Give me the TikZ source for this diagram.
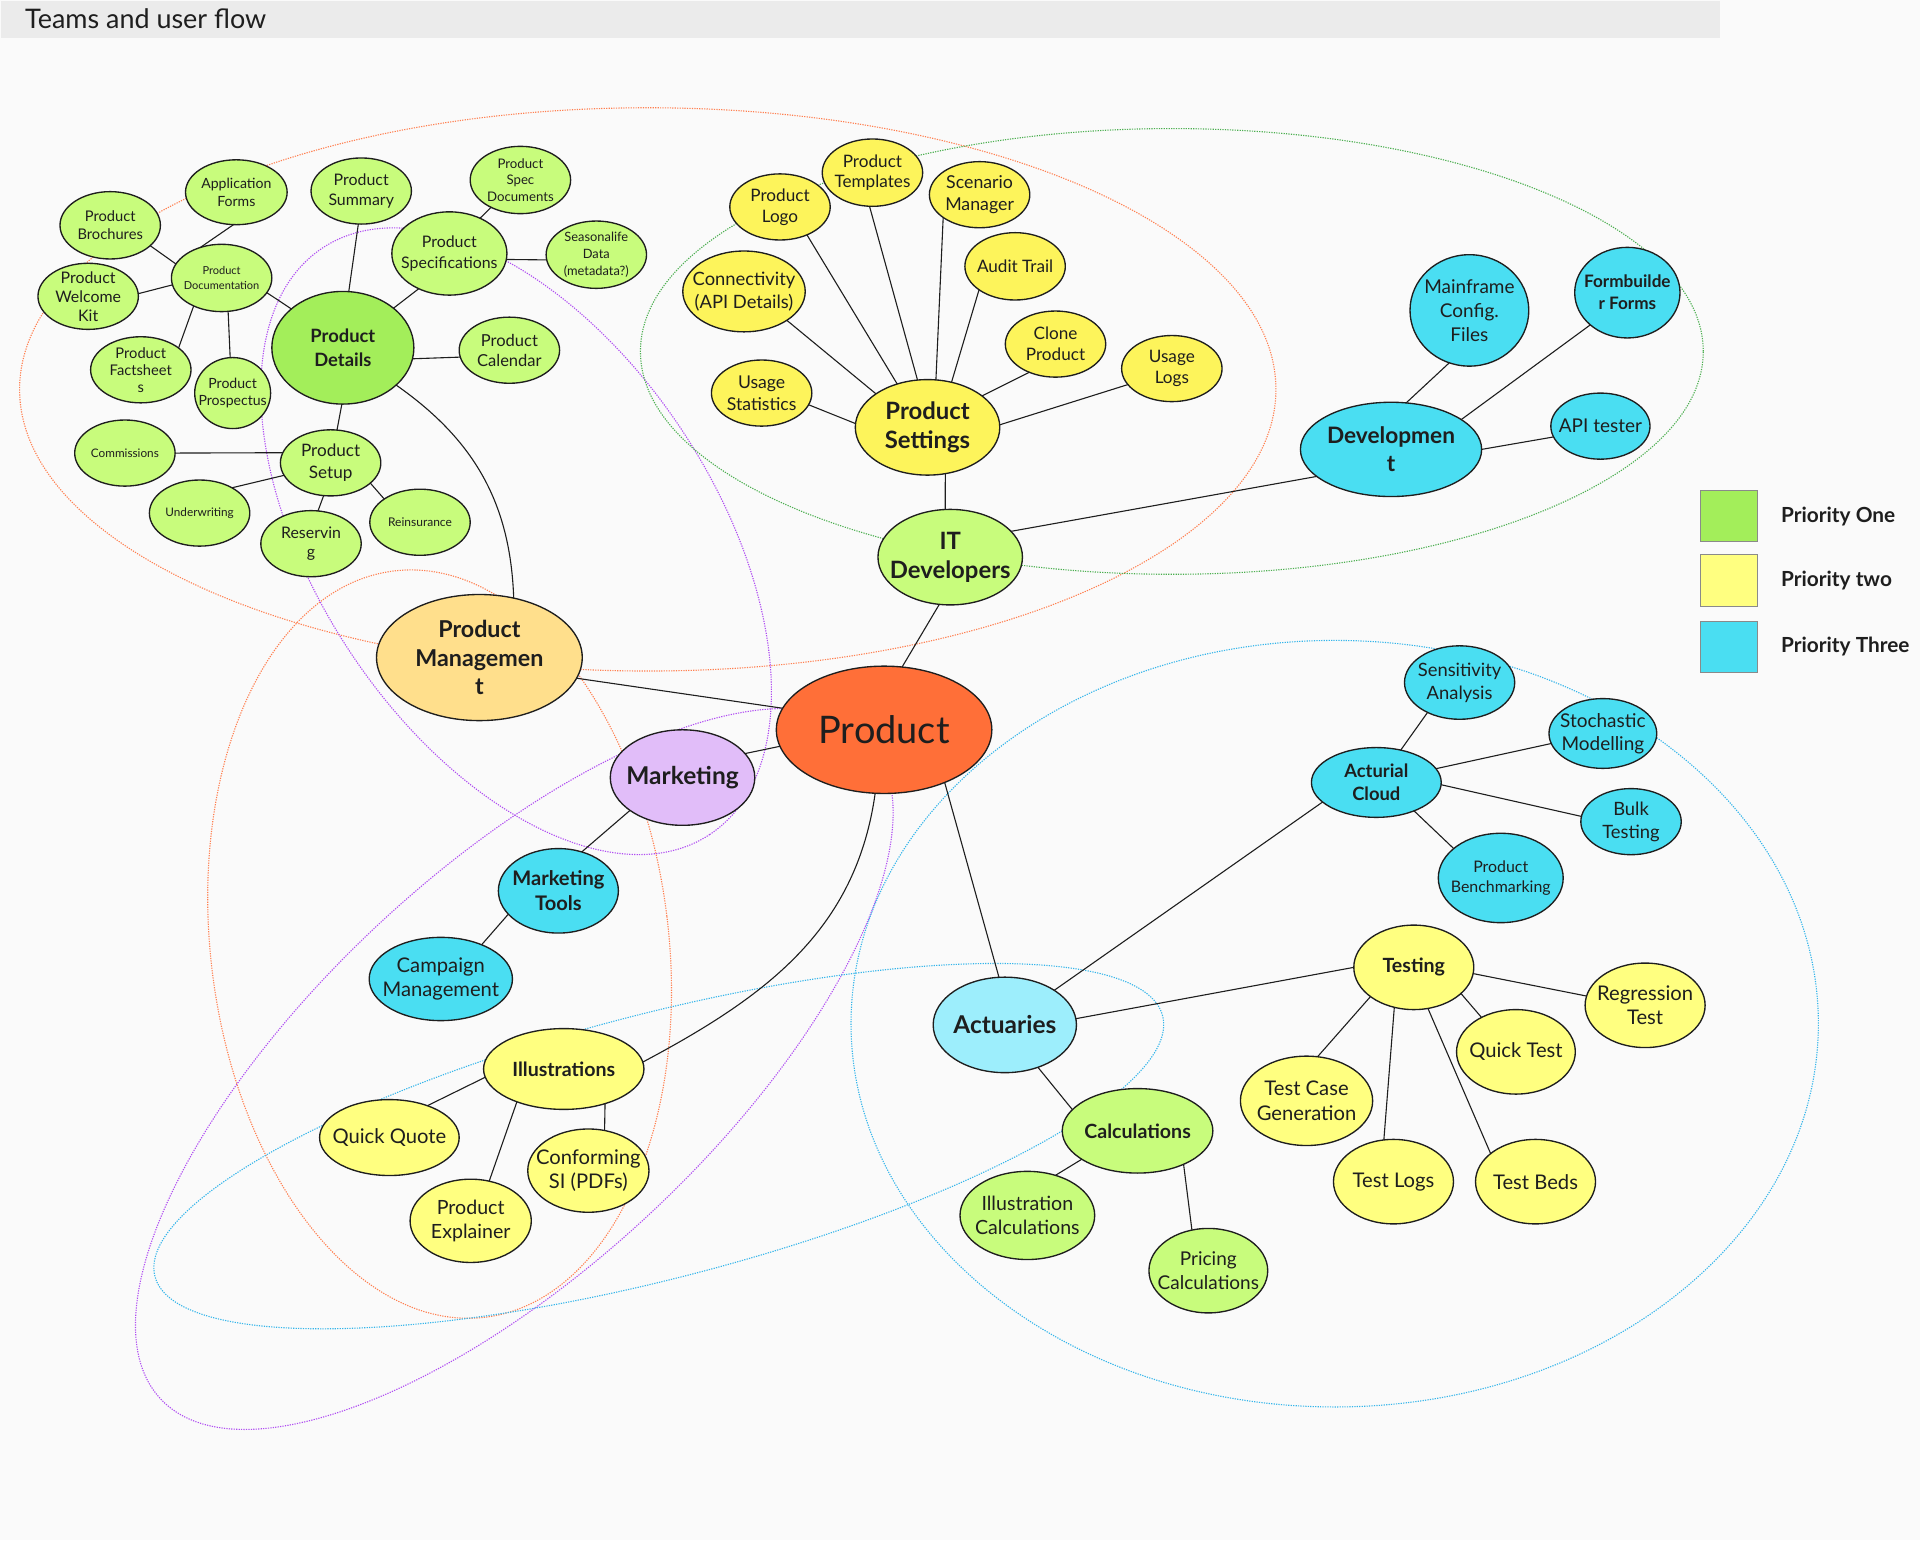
\documentclass[tikz,border=0pt]{standalone}
\usepackage{fontspec}
\setmainfont{Lato}
\usepackage{tikz}
\usetikzlibrary{positioning,shapes.geometric}
\definecolor{Ink}{HTML}{1E1E1E}
\definecolor{Paper}{HTML}{FAFAFA}
\definecolor{Shade}{HTML}{EBEBEB}
\definecolor{LeafLight}{HTML}{C8FC7C}
\definecolor{Leaf}{HTML}{A3EE5A}
\definecolor{Sun}{HTML}{FDF45B}
\definecolor{Butter}{HTML}{FFFF80}
\definecolor{Aqua}{HTML}{4ADEF2}
\definecolor{AquaLight}{HTML}{9DEEFC}
\definecolor{Ember}{HTML}{FF6F38}
\definecolor{Sand}{HTML}{FFDF8C}
\definecolor{Lilac}{HTML}{E1BDF9}
\definecolor{Coral}{HTML}{FF8050}
\definecolor{Violet}{HTML}{B04CF2}
\definecolor{Moss}{HTML}{4CAF50}
\definecolor{Sky}{HTML}{35B5EA}
\definecolor{KeyEdge}{HTML}{8A8A8A}

\begin{document}
\begin{tikzpicture}[
    x=1pt,y=1pt,
    bub/.style={ellipse,draw=Ink,line width=1.1pt,inner sep=0pt,outer sep=0pt},
    sz/.style args={#1/#2}{minimum width=#1pt,minimum height=#2pt},
    lg/.style={bub,fill=LeafLight},
    dg/.style={bub,fill=Leaf},
    ya/.style={bub,fill=Sun},
    yb/.style={bub,fill=Butter},
    aq/.style={bub,fill=Aqua},
    fs/.style args={#1/#2}{font=\fontsize{#1}{#2}\selectfont},
    fb/.style args={#1/#2}{font=\fontsize{#1}{#2}\selectfont\bfseries},
    every label/.style={align=center,inner sep=0pt,text=Ink},
    link/.style={draw=Ink,line width=0.9pt},
    grp/.style={line width=0.9pt,dash pattern=on 1pt off 1pt},
    key/.style={draw=KeyEdge,line width=0.8pt,minimum width=46pt,minimum height=42pt,inner sep=0pt},
    keytxt/.style={fb=17/20,inner sep=0pt,text=Ink}
]
\useasboundingbox (0,0) rectangle (1568,-1258);
\fill[Paper] (0,0) rectangle (1568,-1258);
\fill[Shade] (1,-1) rectangle (1405,-31);
\node[fs=22/26,anchor=west,text=Ink] (title) at (17,-15) {Teams and user flow};

\draw[grp,draw=Coral] (529,-318) ellipse [x radius=513pt,y radius=230pt];
\draw[grp,draw=Coral,rotate around={7:(359,-771)}] (359,-771) ellipse [x radius=187pt,y radius=307pt];
\draw[grp,draw=Violet,rotate around={-56.6:(421.5,-442)}] (421.5,-442) ellipse [x radius=287pt,y radius=163pt];
\draw[grp,draw=Violet,rotate around={43:(420,-873)}] (420,-873) ellipse [x radius=395pt,y radius=162pt];
\draw[grp,draw=Moss] (957,-287) ellipse [x radius=434pt,y radius=182pt];
\draw[grp,draw=Sky] (1090,-836) ellipse [x radius=395pt,y radius=313pt];
\draw[grp,draw=Sky,rotate around={14.5:(538,-936)}] (538,-936) ellipse [x radius=425pt,y radius=108pt];

\node[lg,sz=83/53,label={[fs=11.5/14.5]center:Application\\Forms}] (appforms) at (193,-157) {};
\node[lg,sz=82/55,label={[fs=12/15]center:Product\\Brochures}] (brochures) at (90,-184) {};
\node[lg,sz=82/54,label={[fs=13/15.5]center:Product\\Welcome\\Kit}] (welcome) at (72,-242) {};
\node[lg,sz=82/55,label={[fs=9/11.5]center:Product\\Documentation}] (docs) at (181,-227) {};
\node[lg,sz=82/54,label={[fs=12/14]center:Product\\Factsheet\\s}] (facts) at (115,-302) {};
\node[lg,sz=62/58,label={[fs=11.5/14]center:Product\\Prospectus}] (prospectus) at (190,-321) {};
\node[lg,sz=82/54,label={[fs=13/16]center:Product\\Summary}] (summary) at (295,-156) {};
\node[lg,sz=82/55,label={[fs=10.8/13.5]center:Product\\Spec\\Documents}] (specdocs) at (425,-147) {};
\node[lg,sz=94/68,label={[fs=13/16.5]center:Product\\Specifications}] (specs) at (367,-207) {};
\node[lg,sz=82/55,label={[fs=10.5/13.5]center:Seasonalife\\Data\\(metadata?)}] (seasonal) at (487,-208) {};
\node[dg,sz=116/92,label={[fb=15/19]center:Product\\Details}] (details) at (280,-284) {};
\node[lg,sz=82/54,label={[fs=13.5/16.5]center:Product\\Calendar}] (calendar) at (416,-286) {};
\node[lg,sz=82/54,label={[fs=9.6/12]center:Commissions}] (commissions) at (102,-370) {};
\node[lg,sz=82/54,label={[fs=14/17.5]center:Product\\Setup}] (setup) at (270,-378) {};
\node[lg,sz=82/54,label={[fs=9.6/12]center:Underwriting}] (underwriting) at (163,-419) {};
\node[lg,sz=82/54,label={[fs=13/16]center:Reservin\\g}] (reserving) at (254,-444) {};
\node[lg,sz=82/54,label={[fs=9.8/12]center:Reinsurance}] (reinsurance) at (343,-426.5) {};

\node[bub,fill=Sand,sz=168/103,label={[fb=19/23.3]center:Product\\Managemen\\t}] (mgmt) at (391.5,-537) {};
\node[bub,fill=Ember,sz=176/104,label={[fs=31/38]center:Product}] (product) at (722,-596) {};
\node[bub,fill=Lilac,sz=118/78,label={[fb=20/24]center:Marketing}] (marketing) at (557.4,-635) {};
\node[aq,sz=98/69,label={[fb=16.4/20]center:Marketing\\Tools}] (mtools) at (456,-727.5) {};
\node[aq,sz=117/68,label={[fs=16.5/20]center:Campaign\\Management}] (campaign) at (360,-799.5) {};
\node[yb,sz=131/66,label={[fb=16/20]center:Illustrations}] (illus) at (460.4,-873) {};
\node[yb,sz=114/62,label={[fs=16.5/20]center:Quick Quote}] (quickquote) at (318,-929) {};
\node[yb,sz=99/68,label={[fs=16/20]center:Product\\Explainer}] (explainer) at (384.4,-997) {};
\node[yb,sz=99/68,label={[fs=16.5/20]center:Conforming\\SI (PDFs)}] (conforming) at (480.5,-956) {};

\node[ya,sz=82/54,label={[fs=14/17]center:Product\\Logo}] (logo) at (637,-169) {};
\node[ya,sz=82/55,label={[fs=14/17]center:Product\\Templates}] (templates) at (712.5,-141) {};
\node[ya,sz=82/54,label={[fs=14.5/17.5]center:Scenario\\Manager}] (scenario) at (800,-159) {};
\node[ya,sz=100/66,label={[fs=15/18.5]center:Connectivity\\(API Details)}] (connect) at (607.6,-238) {};
\node[ya,sz=82/55,label={[fs=14/17]center:Audit Trail}] (audit) at (829,-217.5) {};
\node[ya,sz=82/54,label={[fs=14/17]center:Clone\\Product}] (clone) at (862,-281) {};
\node[ya,sz=82/54,label={[fs=14.4/17.5]center:Usage\\Statistics}] (usestats) at (622,-321) {};
\node[ya,sz=82/54,label={[fs=14/17]center:Usage\\Logs}] (uselogs) at (957,-301) {};
\node[ya,sz=118/78,label={[fb=19.5/24]center:Product\\Settings}] (settings) at (757.5,-349) {};
\node[lg,sz=118/78,label={[fb=19.5/24]center:IT\\Developers}] (itdev) at (776,-455) {};
\node[aq,sz=148/77,label={[fb=18.5/23]center:Developmen\\t}] (dev) at (1136,-367) {};
\node[aq,sz=97/91,label={[fs=15.5/19.5]center:Mainframe\\Config.\\Files}] (mainframe) at (1200,-253.5) {};
\node[aq,sz=86/74,label={[fb=14/18]center:Formbuilde\\r Forms}] (formbuilder) at (1329,-239) {};
\node[aq,sz=81/54,label={[fs=15.5/19]center:API tester}] (apitester) at (1307,-348) {};

\node[aq,sz=90/60,label={[fs=15/18.5]center:Sensitivity\\Analysis}] (sensitivity) at (1192,-557.4) {};
\node[aq,sz=88/57,label={[fs=15.5/18.5]center:Stochastic\\Modelling}] (stochastic) at (1309,-599) {};
\node[aq,sz=106/57,label={[fb=15/19]center:Acturial\\Cloud}] (cloud) at (1124,-639) {};
\node[aq,sz=82/54,label={[fs=15/18.5]center:Bulk\\Testing}] (bulk) at (1332,-671) {};
\node[aq,sz=102/73,label={[fs=13/16]center:Product\\Benchmarking}] (bench) at (1225.6,-717) {};
\node[bub,fill=AquaLight,sz=117/78,label={[fb=20/24]center:Actuaries}] (actuaries) at (820.6,-837) {};
\node[yb,sz=98/69,label={[fb=16/20]center:Testing}] (testing) at (1154.6,-790) {};
\node[yb,sz=98/69,label={[fs=16.5/20]center:Regression\\Test}] (regression) at (1343.5,-821) {};
\node[yb,sz=97/69,label={[fs=16.5/20]center:Quick Test}] (quicktest) at (1238,-859) {};
\node[yb,sz=108/73,label={[fs=16.5/20]center:Test Case\\Generation}] (testcase) at (1067,-899) {};
\node[yb,sz=98/69,label={[fs=16.5/20]center:Test Logs}] (testlogs) at (1138,-965) {};
\node[yb,sz=98/69,label={[fs=16.5/20]center:Test Beds}] (testbeds) at (1254,-965) {};
\node[lg,sz=123/69,label={[fb=16/20]center:Calculations}] (calcs) at (929,-923.5) {};
\node[lg,sz=110/72,label={[fs=16/20]center:Illustration\\Calculations}] (illuscalc) at (839,-992.6) {};
\node[lg,sz=97/69,label={[fs=15.5/19.5]center:Pricing\\Calculations}] (pricecalc) at (986.8,-1037.7) {};

\draw[link] (appforms.265) -- (docs.125);
\draw[link] (brochures.-27) -- (docs.163);
\draw[link] (welcome.3) -- (docs.188);
\draw[link] (facts.30) -- (docs.225);
\draw[link] (docs.-79) -- (prospectus.94);
\draw[link] (docs.-18) -- (details.143);
\draw[link] (summary.-95) -- (details.84);
\draw[link] (specs.229) -- (details.38);
\draw[link] (specdocs.223) -- (specs.49);
\draw[link] (specs.-6) -- (seasonal.186);
\draw[link] (details.-9) -- (calendar.188);
\draw[link] (details.-91) -- (setup.79);
\draw[link] (commissions.0) -- (setup.168);
\draw[link] (underwriting.38) -- (setup.195);
\draw[link] (reserving.78) -- (setup.258);
\draw[link] (setup.-27) -- (reinsurance.147);
\draw[link] (details) to[out=-35,in=92] (mgmt.60);
\draw[link] (mgmt.-12) -- (product.168);
\draw[link] (marketing.21) -- (product.189);
\draw[link] (marketing.212) -- (mtools.59);
\draw[link] (mtools.205) -- (campaign.40);
\draw[link] (product) to[out=-98,in=28] (illus.5);
\draw[link] (illus.186) -- (quickquote.40);
\draw[link] (illus.215) -- (explainer.65);
\draw[link] (illus.-40) -- (conforming.68);
\draw[link] (itdev.257) -- (product.74);
\draw[link] (settings.-69) -- (itdev.96);
\draw[link] (itdev.23) -- (dev.200);
\draw[link] (logo.-46) -- (settings.125);
\draw[link] (templates.-95) -- (settings.102);
\draw[link] (scenario.212) -- (settings.80);
\draw[link] (connect.-34) -- (settings.147);
\draw[link] (audit.213) -- (settings.62);
\draw[link] (clone.227) -- (settings.30);
\draw[link] (usestats.-14) -- (settings.177);
\draw[link] (uselogs.200) -- (settings.2);
\draw[link] (dev.72) -- (mainframe.249);
\draw[link] (dev.23) -- (formbuilder.221);
\draw[link] (dev.0) -- (apitester.193);
\draw[link] (product.-41) -- (actuaries.97);
\draw[link] (actuaries.35) -- (cloud.200);
\draw[link] (actuaries.5) -- (testing.180);
\draw[link] (actuaries.-52) -- (calcs.162);
\draw[link] (cloud.53) -- (sensitivity.223);
\draw[link] (cloud.13) -- (stochastic.191);
\draw[link] (cloud.-2) -- (bulk.174);
\draw[link] (cloud.-37) -- (bench.148);
\draw[link] (testing.-6) -- (regression.171);
\draw[link] (testing.-29) -- (quicktest.135);
\draw[link] (testing.-146) -- (testcase.76);
\draw[link] (testing.-116) -- (testlogs.103);
\draw[link] (testing.-71) -- (testbeds.148);
\draw[link] (calcs.207) -- (illuscalc.55);
\draw[link] (calcs.-36) -- (pricecalc.112);

\node[key,fill=Leaf] (k1) at (1412,-421.5) {};
\node[keytxt,right=19pt of k1] (k1t) {Priority One};
\node[key,fill=Butter] (k2) at (1412,-474) {};
\node[keytxt,right=19pt of k2] (k2t) {Priority two};
\node[key,fill=Aqua] (k3) at (1412,-528.3) {};
\node[keytxt,right=19pt of k3] (k3t) {Priority Three};
\end{tikzpicture}
\end{document}
